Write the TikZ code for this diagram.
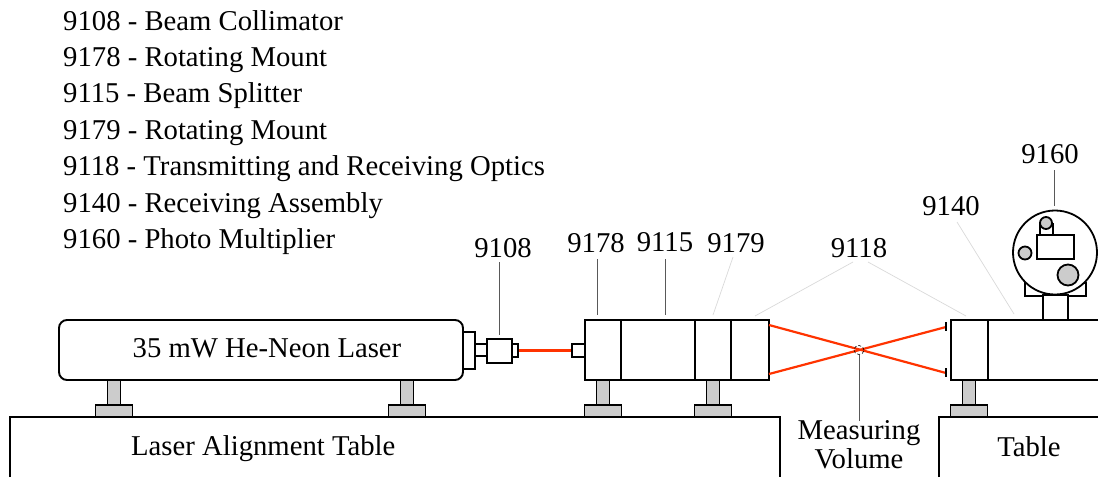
\documentclass[tikz,border=0pt]{standalone}
\usepackage{fontspec}
\setmainfont{Liberation Serif}
\usetikzlibrary{positioning,shapes.geometric}
\definecolor{beamred}{RGB}{255,51,0}
\definecolor{mountgray}{RGB}{204,204,204}
\tikzset{
 part/.style={draw,line width=1.9pt,fill=white,inner sep=0pt,minimum width=#1,minimum height=60pt},
 small/.style={draw,line width=1.8pt,inner sep=0pt},
 post/.style={draw,line width=1.8pt,fill=mountgray},
 beam/.style={draw=beamred,line width=2.2pt},
 leader/.style={draw=black!65,line width=1pt},
 faint/.style={draw=black!15,line width=0.7pt},
 lab/.style={font=\fontsize{28.7}{30}\selectfont,inner sep=0pt,align=center},
}
\begin{document}
\begin{tikzpicture}[x=1pt,y=-1pt]
\useasboundingbox (0,0) rectangle (1098,477);
\foreach \t/\y/\txt in {a/30/9108 - Beam Collimator,b/66/9178 - Rotating Mount,c/102/9115 - Beam Splitter,d/139/9179 - Rotating Mount,e/175/9118 - Transmitting and Receiving Optics,f/212/9140 - Receiving Assembly,g/248/9160 - Photo Multiplier}
 \node[lab,anchor=base west] (item\t) at (63,\y) {\txt};
% tables and mounts
\draw[line width=1.7pt] (10,477)--(10,417)--(780,417)--(780,477);
\draw[line width=1.7pt] (939,477)--(939,417)--(1098,417);
\foreach \x in {114,407,603,713,969}{
 \draw[post] (\x-6.5,380) rectangle (\x+6.5,405);
 \draw[post] (\x-18.5,405) rectangle (\x+18.5,417);
}
% laser and collimator
\node[part=404pt,rounded corners=8pt] (laser) at (261,350) {};
\node[lab] (nlaser) at (267,348) {35 mW He-Neon Laser};
\draw[line width=1.8pt] (463,332) rectangle (475,369);
\draw[line width=1.8pt] (475,344) rectangle (487,356);
\node[small,minimum width=25pt,minimum height=24pt] (collimator) at (499.5,351) {};
\node[small,minimum width=6pt,minimum height=13pt] (tip) at (515,350.5) {};
% optics
\node[small,minimum width=13pt,minimum height=13pt] (inlet) at (578.5,350.5) {};
\node[part=36pt] (mount1) at (603,350) {};
\node[part=74pt] (splitter) at (658,350) {};
\node[part=36pt] (mount2) at (713,350) {};
\node[part=38pt] (optics) at (750,350) {};
\node[part=37pt] (recv) at (969.5,350) {};
\node[part=112pt] (assembly) at (1044,350) {};
\draw[line width=1.8pt,fill=white] (1025,283) rectangle (1086,296);
\draw[line width=1.8pt,fill=white] (1043,295) rectangle (1068,320);
\draw[line width=1.8pt,fill=white] (1055,252.5) circle (42);
\draw[line width=1.8pt] (1040,235)--(1040,223) (1053,235)--(1053,223);
\draw[line width=1.8pt,fill=white] (1037,235) rectangle (1074,259);
\draw[post] (1046,223) circle (6);
\draw[post] (1025,253) circle (6.5);
\draw[post] (1068,275) circle (10.5);
% beam
\coordinate (o1) at (769,325);
\coordinate (o2) at (769,374);
\coordinate (r1) at (946,373);
\coordinate (r2) at (946,327);
\draw[beam] (tip.east) -- (inlet.west);
\draw[beam] (o1) -- (r1);
\draw[beam] (o2) -- (r2);
\draw[line width=2pt] (946,322)--(946,331) (946,368)--(946,377);
\node[draw,densely dashed,line width=0.6pt,ellipse,inner sep=0pt,minimum width=10pt,minimum height=9pt] (volume) at (859,350) {};
% labels
\node[lab] (n9108) at (503,248) {9108};
\node[lab] (n9178) at (596,243) {9178};
\node[lab] (n9115) at (665,242) {9115};
\node[lab] (n9179) at (736,243) {9179};
\node[lab] (n9118) at (859,248) {9118};
\node[lab] (n9140) at (951,206) {9140};
\node[lab] (n9160) at (1050,154) {9160};
\node[lab] (nvol) at (859,445) {Measuring\\[-1pt]Volume};
\node[lab,anchor=west] (ntable1) at (131,449) {Laser Alignment Table};
\node[lab] (ntable2) at (1029,447) {Table};
% leaders
\coordinate (e9108) at (499,335);
\coordinate (e9178) at (597,315);
\coordinate (e9115) at (665,315);
\coordinate (e9179) at (713,315);
\coordinate (e9118a) at (755,316);
\coordinate (e9118b) at (966,316);
\coordinate (e9140) at (1014,314);
\coordinate (e9160) at (1054,206);
\draw[leader] (499,262) -- (e9108);
\draw[leader] (597,259) -- (e9178);
\draw[leader] (665,259) -- (e9115);
\draw[faint] (733,257) -- (e9179);
\draw[faint] (853,262) -- (e9118a);
\draw[faint] (868,262) -- (e9118b);
\draw[faint] (957,222) -- (e9140);
\draw[leader] (1054,170) -- (e9160);
\draw[leader] (nvol.north -| volume) -- (volume.south);
\end{tikzpicture}
\end{document}
